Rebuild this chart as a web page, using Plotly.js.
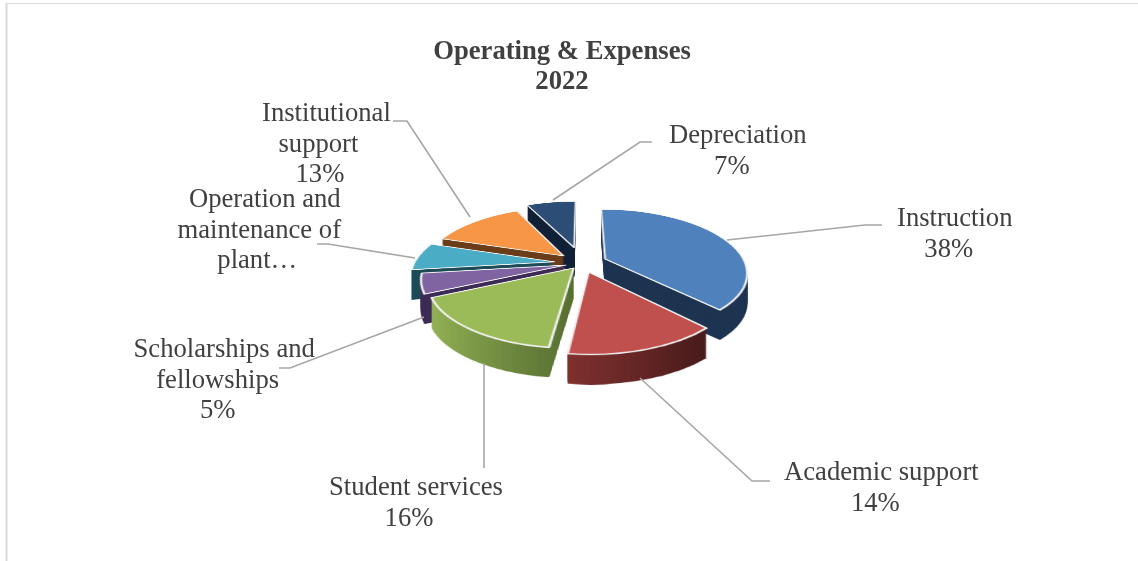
<!DOCTYPE html>
<html>
<head>
<meta charset="utf-8">
<script src="https://cdn.plot.ly/plotly-3.0.1.min.js"></script>
<style>
html,body{margin:0;padding:0;background:#fff;width:1138px;height:561px;overflow:hidden}
#stage{position:relative;width:1138px;height:561px;overflow:hidden}
.pieLayer{position:absolute;left:13px;top:-137px;width:1138px;height:800px;transform-origin:50% 50%}
#over{position:absolute;left:0;top:0;width:1138px;height:561px}
</style>
</head>
<body>
<div id="stage"><div id="side" class="pieLayer"></div><div id="top" class="pieLayer"></div><div id="over"></div></div>
<script>
const categories = ["Instruction","Academic support","Student services","Scholarships and fellowships","Operation and maintenance of plant","Institutional support","Depreciation"];
const shares = [38,14,16,5,7,13,7];
const pulls = [0.18,0.15,0.10,0.12,0.20,0.18,0.27];
const topColors = ["#4f81bd","#c0504d","#9bbb59","#8064a2","#4bacc6","#f79646","#2c4d75"];
const sideColors = ["#1c3350","#5e2422","#6d8a3c","#3b2a55","#1c4b58","#6b3c18","#0f2036"];
const titleText = "Operating & Expenses<br>2022";
const labelTexts = ["Instruction<br>38%","Academic support<br>14%","Student services<br>16%","Scholarships and<br>fellowships<br>5%","Operation and<br>maintenance of<br>plant…","Institutional<br>support<br>13%","Depreciation<br>7%"];
const labelX = [955,881,416,221,259,322,738];
const labelY = [232,486,501,378,228,142,150];
const labelLineDx = [[0,-6],[0,-6],[0,-7],[3.5,-3,-3],[6,0.5,-1.5],[4,-4,-2.5],[0,-6]];
const leaders = [
 [[882,225],[865,225],[727,240]],
 [[770,481],[752,481],[640,378]],
 [[484,468],[484,363]],
 [[279,368],[290,368],[424,317]],
 [[317,244],[328,244],[415,258]],
 [[393,121],[407,121],[470,217]],
 [[652,142],[640,142],[553,200]]
];
const W=1138,H=561,PW=1138,PH=800,RADIUS=140,DEPTH=30,FS=26.67;
const DOM=2*RADIUS*(1+Math.max(...pulls));
const TILT='perspective(616px) rotateX(64deg)';
function pieTrace(colors,line){
  return {type:'pie',values:shares,labels:categories,sort:false,direction:'clockwise',rotation:0,pull:pulls,
    textinfo:'none',hoverinfo:'skip',showlegend:false,
    marker:{colors:colors,line:line},
    domain:{x:[0.5-DOM/2/PW,0.5+DOM/2/PW],y:[0.5-DOM/2/PH,0.5+DOM/2/PH]}};
}
const px=(x)=>x/W, py=(y)=>1-y/H;
const shapes=leaders.map(p=>({type:'path',xref:'paper',yref:'paper',line:{color:'#a6a6a6',width:1.6},
  path:p.map((q,i)=>(i?'L':'M')+px(q[0])+' '+py(q[1])).join(' ')}));
shapes.push({type:'line',xref:'paper',yref:'paper',x0:px(6.5),x1:px(6.5),y0:py(3),y1:py(561),line:{color:'#d9d9d9',width:2}});
shapes.push({type:'line',xref:'paper',yref:'paper',x0:px(6),x1:px(1138),y0:py(3.5),y1:py(3.5),line:{color:'#d9d9d9',width:1}});
const annotations=labelTexts.map((t,i)=>({text:t,x:px(labelX[i]),y:py(labelY[i]),xref:'paper',yref:'paper',xanchor:'center',yanchor:'middle',showarrow:false,align:'center',
  font:{family:'"Liberation Serif",serif',size:FS,color:'#404040'}}));
function tightenLines(gd,lh,fs){
  gd.querySelectorAll('.annotation-text').forEach((t,idx)=>{
    const lines=t.querySelectorAll('tspan.line');
    if(lines.length<2) return;
    const n=lines.length;
    const y=parseFloat(lines[0].getAttribute('y')||t.getAttribute('y'));
    const y0=y+(n-1)/2*(1.3*fs-lh);
    lines.forEach((l,i)=>{
      l.removeAttribute('dy');
      l.setAttribute('y',y0+i*lh);
      l.setAttribute('x',parseFloat(l.getAttribute('x'))+labelLineDx[idx][i]);
    });
  });
  const title=gd.querySelector('.gtitle');
  if(title){
    title.removeAttribute('dy');
    title.querySelectorAll('tspan.line').forEach((l,i)=>{l.removeAttribute('dy');l.setAttribute('y',59+i*30);});
  }
}
function addGradients(gd){
  const svg=gd.querySelector('svg.main-svg');
  const ns='http://www.w3.org/2000/svg';
  const defs=document.createElementNS(ns,'defs');
  defs.innerHTML='<linearGradient id="gAcad" x1="0" x2="1" y1="0" y2="0"><stop offset="0" stop-color="#7e302d"/><stop offset="1" stop-color="#46191a"/></linearGradient>'+
   '<linearGradient id="gStud" x1="0" x2="1" y1="0" y2="0"><stop offset="0" stop-color="#93b254"/><stop offset="1" stop-color="#566d30"/></linearGradient>';
  svg.appendChild(defs);
  const sl=gd.querySelectorAll('.pielayer .trace .slice path.surface');
  if(sl[1]) sl[1].style.fill='url(#gAcad)';
  if(sl[2]) sl[2].style.fill='url(#gStud)';
}
function extrude(gd){
  // the side layer drawn by Plotly is repeated downward to give the slices their thickness
  gd.style.transform='translateY('+DEPTH+'px) '+TILT;
  const stage=document.getElementById('stage'), topDiv=document.getElementById('top');
  for(let k=DEPTH-1;k>=1;k--){
    const c=gd.cloneNode(true);
    c.removeAttribute('id');
    c.style.transform='translateY('+k+'px) '+TILT;
    stage.insertBefore(c,topDiv);
  }
}
document.getElementById('top').style.transform=TILT;
const cfg={displayModeBar:false,staticPlot:true};
const pieLayout={width:PW,height:PH,margin:{l:0,r:0,t:0,b:0},paper_bgcolor:'rgba(0,0,0,0)',showlegend:false};
Plotly.newPlot('side',[pieTrace(sideColors,{width:0})],pieLayout,cfg).then(gd=>{addGradients(gd);extrude(gd);});
Plotly.newPlot('top',[pieTrace(topColors,{color:'#f4f4f4',width:2})],pieLayout,cfg);
Plotly.newPlot('over',[],{width:W,height:H,margin:{l:0,r:0,t:0,b:0},paper_bgcolor:'rgba(0,0,0,0)',plot_bgcolor:'rgba(0,0,0,0)',
  xaxis:{visible:false},yaxis:{visible:false},showlegend:false,
  title:{text:titleText,x:562/W,y:1-65/H,xanchor:'center',yanchor:'middle',font:{family:'"Liberation Serif",serif',size:FS,color:'#404040',weight:700}},
  shapes:shapes,annotations:annotations},cfg).then(gd=>tightenLines(gd,30.7,FS));
</script>
</body>
</html>
